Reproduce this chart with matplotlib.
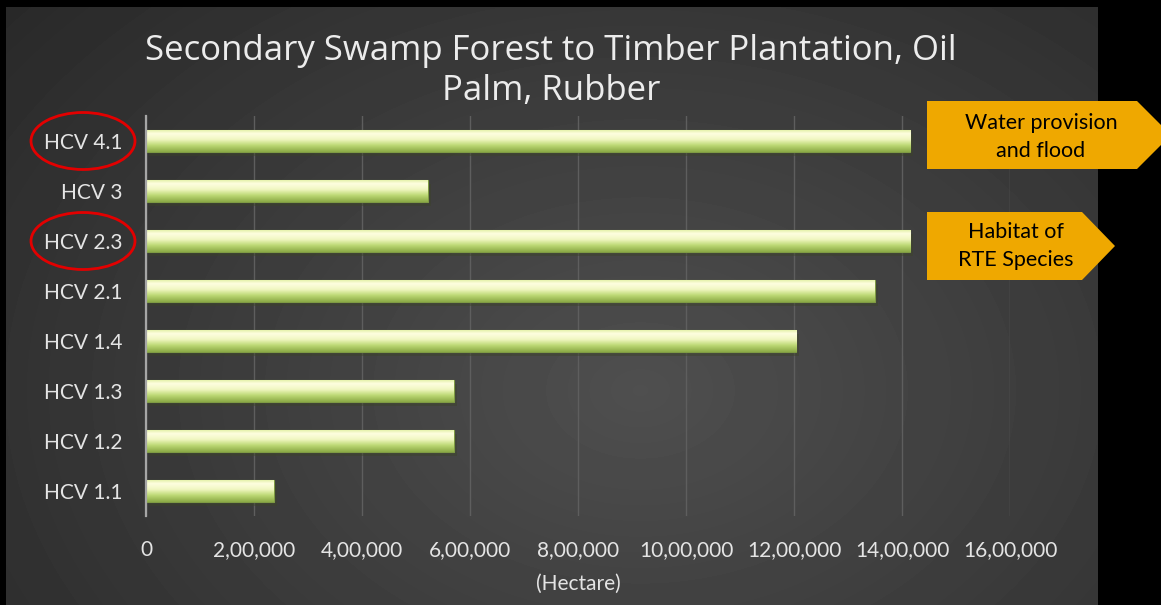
import numpy as np
import matplotlib.pyplot as plt
import matplotlib.patheffects as pe
from matplotlib import transforms
from matplotlib.patches import Ellipse, Polygon
from matplotlib.colors import LinearSegmentedColormap

# Data
categories = ["HCV 1.1", "HCV 1.2", "HCV 1.3", "HCV 1.4", "HCV 2.1", "HCV 2.3", "HCV 3", "HCV 4.1"]
hectares = [237000, 570000, 570000, 1204000, 1350000, 1415000, 522000, 1415000]
x_ticks = [0, 200000, 400000, 600000, 800000, 1000000, 1200000, 1400000, 1600000]
title = "Secondary Swamp Forest to Timber Plantation, Oil\nPalm, Rubber"
x_label = "(Hectare)"
circled = ["HCV 4.1", "HCV 2.3"]
callouts = ["Water provision\nand flood", "Habitat of\nRTE Species"]

plt.rcParams["font.family"] = ["Lato", "DejaVu Sans"]


def indian_format(v):
    """Format a number with Indian digit grouping (12,00,000)."""
    s = str(int(v))
    if len(s) <= 3:
        return s
    head, tail = s[:-3], s[-3:]
    parts = []
    while len(head) > 2:
        parts.insert(0, head[-2:])
        head = head[:-2]
    if head:
        parts.insert(0, head)
    return ",".join(parts) + "," + tail


W, H = 1161, 605
fig = plt.figure(figsize=(W / 100, H / 100), dpi=100)
fig.patch.set_facecolor("black")

# =========================
# Background (radial gradient slide)
# =========================
bg = fig.add_axes([0, 0, 1, 1], zorder=0)
bg.set_xlim(0, W)
bg.set_ylim(H, 0)
bg.axis("off")
yy, xx = np.mgrid[7:605, 6:1098]
d = np.sqrt(((xx - 640) / 720.0) ** 2 + ((yy - 390) / 520.0) ** 2)
val = np.clip(0.31 - 0.13 * d, 0.14, 0.35)
bg.imshow(val, cmap="gray", vmin=0, vmax=1, extent=[6, 1098, 605, 7],
          aspect="auto", interpolation="bilinear")

# =========================
# Main bar chart
# =========================
ax = fig.add_axes([146 / W, 1 - 516 / H, 864 / W, 400 / H], zorder=1)
ax.set_facecolor("none")

y = np.arange(len(categories))
bars = ax.barh(y, hectares, height=0.44, color="#c8df86", edgecolor="#7f9b44",
               linewidth=0.8, zorder=3)
for b in bars:
    b.set_path_effects([pe.SimplePatchShadow(offset=(2, -3), alpha=0.45), pe.Normal()])

bar_cmap = LinearSegmentedColormap.from_list(
    "bar", [(0.0, "#e6f2ac"), (0.15, "#fefee0"), (0.42, "#f1f7c2"),
            (0.7, "#bcd874"), (1.0, "#8cab46")])
grad = np.linspace(0, 1, 64).reshape(-1, 1)
for b in bars:
    x0, y0 = b.get_x(), b.get_y()
    im = ax.imshow(grad, cmap=bar_cmap, aspect="auto", zorder=4,
                   extent=[x0, x0 + b.get_width(), y0, y0 + b.get_height()],
                   interpolation="bilinear")
    im.set_clip_path(b)

ax.set_xlim(0, 1600000)
ax.set_ylim(-0.5, len(categories) - 0.5)
ax.set_xticks(x_ticks)
ax.set_xticklabels([indian_format(v) for v in x_ticks])
ax.set_yticks(y)
ax.set_yticklabels(categories)
ax.tick_params(axis="both", length=0, colors="#e4e4e4", labelsize=15)
ax.tick_params(axis="x", pad=17)
ax.tick_params(axis="y", pad=17)
ax.grid(axis="x", color="#5e5e5e", linewidth=1, zorder=0)
ax.grid(axis="y", visible=False)
for s in ["top", "right", "bottom"]:
    ax.spines[s].set_visible(False)
ax.spines["left"].set_color("#a6a6a6")
ax.spines["left"].set_linewidth(1.6)
ax.spines["left"].set_zorder(5)

ax.set_xlabel(x_label, color="#e4e4e4", fontsize=15)
ax.xaxis.set_label_coords(0.5, -0.145)

fig.text(551 / W, 1 - 71 / H, title, ha="center", va="center", fontsize=25,
         family=["Open Sans", "DejaVu Sans"], color="#ececec", linespacing=1.22)

# Red circles around highlighted labels
mark = transforms.blended_transform_factory(bg.transData, ax.transData)
for lab in circled:
    i = categories.index(lab)
    ax.add_patch(Ellipse((83, i), 104, 1.14, transform=mark, fill=False,
                         edgecolor="#e30000", linewidth=2, clip_on=False, zorder=6))

# Orange callout arrows
ov = fig.add_axes([0, 0, 1, 1], zorder=2)
ov.set_xlim(0, W)
ov.set_ylim(H, 0)
ov.axis("off")
box1 = [(927, 101), (1137, 101), (1171, 135), (1137, 169), (927, 169)]
box2 = [(927, 212), (1082, 212), (1115, 246), (1082, 280), (927, 280)]
for pts in [box1, box2]:
    ov.add_patch(Polygon(pts, closed=True, facecolor="#efa800", edgecolor="none"))
ov.text(1041, 137, callouts[0], ha="center", va="center", fontsize=15.5,
        color="black", linespacing=1.45)
ov.text(1016, 246, callouts[1], ha="center", va="center", fontsize=15.5,
        color="black", linespacing=1.45)

fig.savefig("out.png", dpi=100, facecolor=fig.get_facecolor())
